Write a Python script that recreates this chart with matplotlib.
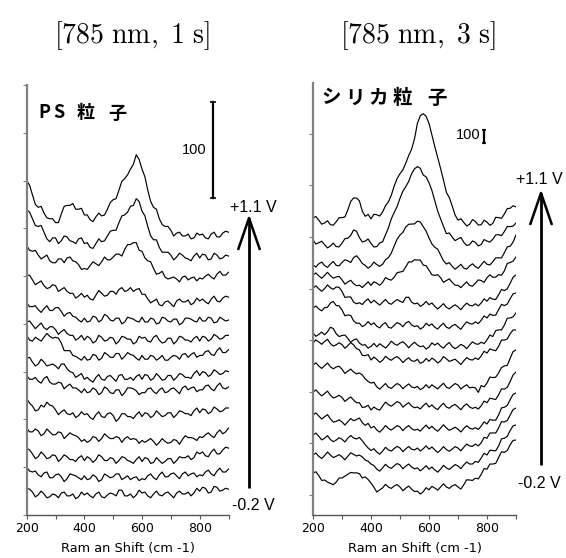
import matplotlib
matplotlib.use("Agg")
import matplotlib.pyplot as plt
from matplotlib.lines import Line2D

plt.rcParams['mathtext.fontset'] = 'cm'

# ---------------- data ----------------
wavenumber = list(range(200, 901, 10))  # Raman shift (cm-1)

# left panel: PS particles, 785 nm 1 s (counts, as stacked; top trace = +1.1 V)
ps_traces = [
    [350,345,335,325,322,323,316,311,310,310,306,306,315,323,324,324,326,320,320,321,314,314,309,307,312,316,313,314,320,327,330,331,340,349,352,356,362,367,377,372,362,354,340,328,322,320,310,304,302,302,298,292,295,296,292,292,294,289,290,295,293,294,290,289,294,296,291,291,295,297,296],
    [319,317,310,303,302,303,296,289,286,290,290,284,287,292,291,287,286,284,289,290,284,285,280,279,284,289,286,287,292,297,298,298,306,313,314,317,323,324,331,328,318,313,302,292,288,288,280,275,275,275,272,267,270,274,272,269,268,266,271,274,269,273,272,267,268,274,272,268,269,272,271],
    [282,277,276,277,272,268,270,272,266,264,264,268,268,264,269,270,266,265,262,257,258,257,261,265,263,261,265,270,267,267,270,273,273,271,278,283,283,285,285,277,276,269,266,265,258,252,253,255,249,247,248,249,247,244,249,250,246,248,249,245,248,247,250,252,249,247,252,255,251,251,254],
    [251,251,246,241,243,245,240,237,238,241,240,234,236,238,234,232,232,227,229,232,228,230,226,225,230,235,232,229,230,234,234,231,236,238,234,235,238,234,236,237,231,231,226,222,224,226,220,219,223,224,221,218,224,226,223,223,225,220,222,227,224,226,223,221,226,229,224,223,227,229,228],
    [222,218,218,219,215,212,216,219,214,214,217,217,213,208,211,212,208,207,204,202,206,202,203,208,207,202,204,210,208,204,203,206,206,200,202,207,206,205,203,202,207,202,202,206,205,200,201,207,206,203,202,205,205,199,201,206,206,205,203,202,207,203,203,207,206,201,202,207,205,203,204],
    [202,203,199,195,198,201,196,194,197,197,194,189,192,194,190,188,188,183,185,188,183,187,185,180,182,188,186,182,183,186,185,179,182,187,186,184,184,179,181,187,185,186,182,181,186,188,183,180,181,185,185,179,182,187,186,183,183,181,185,187,182,187,186,182,184,189,187,184,185,188,188],
    [188,183,182,186,184,182,186,190,187,185,186,185,180,172,172,172,167,166,164,162,166,162,163,168,167,162,164,170,168,165,165,169,169,163,166,170,168,167,164,162,167,163,163,167,166,162,164,167,162,162,165,167,166,163,168,169,165,168,170,165,167,167,171,172,168,167,172,175,170,170,173],
    [164,165,160,156,158,163,160,156,157,158,156,153,158,158,153,150,149,144,146,148,142,144,141,139,144,147,142,141,145,146,143,140,146,147,142,142,144,141,145,147,142,147,146,141,143,148,145,141,142,146,146,141,144,148,147,144,144,143,148,151,146,150,149,145,147,152,150,147,148,151,150],
    [146,142,142,144,140,138,143,145,139,137,137,139,138,132,135,137,133,133,131,128,132,128,129,133,131,126,128,134,132,128,127,131,131,125,128,133,133,132,130,126,128,128,132,133,129,127,131,133,128,129,132,133,130,127,133,135,131,133,134,129,131,131,135,136,132,130,135,138,133,132,134],
    [122,117,114,109,110,115,113,118,115,114,110,105,108,110,106,105,107,102,104,108,105,106,102,100,105,108,103,102,106,107,104,98,101,106,106,103,103,101,105,108,103,107,106,102,104,109,106,103,104,107,107,102,105,109,108,106,106,104,109,112,107,111,110,106,108,113,111,108,109,112,112],
    [91,87,87,90,88,83,85,90,87,84,84,87,86,80,83,86,84,83,81,77,79,76,78,82,81,77,80,85,82,80,80,82,81,76,80,82,79,80,79,75,78,76,78,80,77,73,76,80,77,75,76,79,78,74,79,83,81,81,80,78,82,81,84,86,83,81,86,89,85,87,91],
    [70,68,64,59,61,66,63,59,60,63,62,56,59,63,61,58,58,56,60,62,57,61,59,55,58,63,61,57,57,60,59,54,57,61,60,57,56,54,58,61,56,60,59,54,55,60,57,54,56,59,59,54,57,61,60,60,62,58,60,66,64,66,62,61,66,69,64,64,68,71,70],
    [50,46,45,46,42,40,44,45,39,39,42,43,40,35,38,43,42,41,39,37,41,37,38,42,40,35,37,43,41,39,40,43,43,37,39,41,37,39,40,36,38,37,41,43,39,37,42,45,40,40,43,44,41,38,43,45,41,43,44,40,42,41,45,47,43,41,46,49,45,45,48],
    [28,27,24,19,21,25,22,18,19,22,21,18,23,24,20,20,22,17,19,24,21,23,20,18,22,24,19,18,21,23,22,20,26,26,20,20,22,18,21,26,23,24,20,18,22,25,21,20,23,24,21,18,23,25,22,22,24,20,23,28,25,29,28,23,24,30,29,25,26,28,27],
]

# right panel: silica particles, 785 nm 3 s
silica_traces = [
    [2147,2158,2130,2099,2108,2126,2095,2091,2118,2149,2150,2155,2209,2275,2302,2301,2280,2200,2160,2175,2140,2176,2172,2162,2193,2242,2272,2323,2395,2452,2490,2521,2572,2631,2680,2760,2880,2940,2955,2935,2880,2790,2700,2615,2530,2440,2345,2305,2240,2170,2130,2141,2112,2085,2098,2134,2120,2092,2095,2130,2115,2090,2105,2152,2150,2144,2178,2220,2222,2242,2232],
    [1976,1945,1955,1967,1940,1915,1930,1952,1925,1923,1952,1986,1990,2012,2054,2044,1995,1961,1968,1984,1950,1922,1925,1953,1962,2016,2070,2140,2190,2235,2300,2355,2390,2430,2490,2528,2545,2532,2480,2465,2420,2360,2280,2200,2140,2082,2025,2031,1998,1971,1985,1996,1958,1934,1940,1969,1958,1930,1942,1980,1968,1960,1982,2015,2018,2010,2042,2081,2080,2084,2108],
    [1783,1767,1792,1805,1778,1764,1790,1810,1780,1776,1802,1823,1815,1802,1840,1854,1828,1794,1780,1757,1775,1805,1786,1772,1788,1824,1840,1875,1930,1982,2015,2036,2077,2098,2100,2101,2122,2116,2080,2046,1992,1946,1920,1905,1860,1815,1790,1801,1772,1750,1768,1788,1758,1751,1775,1792,1770,1757,1784,1811,1788,1783,1808,1838,1838,1838,1878,1923,1928,1961,2015],
    [1705,1721,1698,1680,1702,1726,1700,1680,1690,1694,1668,1634,1651,1664,1638,1622,1626,1608,1630,1652,1624,1653,1642,1625,1648,1685,1672,1665,1688,1723,1728,1733,1768,1807,1806,1823,1821,1821,1782,1777,1742,1707,1702,1708,1684,1648,1662,1675,1648,1626,1625,1607,1630,1652,1624,1618,1642,1667,1662,1648,1684,1706,1688,1688,1708,1703,1738,1795,1802,1813,1845],
    [1604,1621,1598,1579,1600,1628,1606,1594,1612,1610,1578,1531,1535,1535,1495,1482,1490,1476,1502,1520,1488,1509,1490,1472,1494,1516,1488,1478,1498,1515,1502,1492,1532,1533,1495,1481,1488,1462,1476,1500,1475,1488,1462,1442,1462,1483,1455,1442,1460,1474,1458,1436,1465,1487,1470,1466,1482,1465,1488,1520,1502,1530,1518,1515,1552,1593,1584,1598,1642,1688,1705],
    [1449,1465,1442,1427,1452,1455,1488,1500,1468,1466,1434,1389,1395,1392,1350,1331,1332,1305,1318,1344,1320,1334,1308,1295,1322,1336,1300,1293,1316,1336,1326,1304,1333,1345,1318,1305,1312,1286,1300,1331,1312,1326,1300,1286,1312,1331,1300,1291,1312,1322,1302,1284,1316,1342,1328,1325,1342,1328,1354,1388,1372,1402,1392,1394,1436,1477,1468,1480,1522,1559,1566],
    [1256,1230,1244,1263,1242,1265,1300,1290,1250,1228,1236,1240,1214,1183,1202,1210,1178,1161,1165,1138,1152,1175,1148,1172,1156,1139,1162,1192,1172,1160,1178,1188,1168,1141,1165,1184,1163,1149,1156,1131,1146,1179,1162,1177,1153,1138,1164,1182,1150,1134,1148,1167,1156,1134,1162,1187,1172,1168,1184,1173,1202,1240,1228,1274,1280,1279,1318,1370,1372,1381,1411],
    [1178,1202,1186,1168,1190,1207,1174,1154,1164,1180,1166,1137,1158,1181,1164,1134,1125,1082,1080,1088,1046,1069,1052,1028,1044,1075,1056,1044,1062,1073,1054,1026,1048,1064,1040,1036,1052,1021,1030,1058,1036,1061,1046,1023,1040,1073,1056,1035,1044,1053,1032,1011,1040,1065,1050,1046,1062,1050,1078,1114,1100,1132,1124,1118,1152,1201,1200,1210,1250,1279,1279],
    [1008,1024,1000,981,1002,1023,994,978,992,998,975,942,960,976,953,939,946,930,900,880,868,873,838,820,842,864,836,826,846,864,852,823,844,861,838,830,842,816,830,855,830,854,838,822,846,866,836,826,846,864,852,821,840,855,830,835,830,795,848,838,868,914,910,913,946,988,1000,1005,1060,1112,1124],
    [798,814,790,768,786,805,774,752,760,773,756,725,744,760,736,715,715,678,682,695,659,682,666,658,690,720,700,688,706,724,713,681,700,715,690,676,682,667,692,712,682,698,675,662,690,711,682,672,692,702,682,661,690,706,682,671,680,666,692,728,715,750,745,740,776,823,820,835,880,931,953],
    [620,636,612,589,606,623,590,565,570,583,566,542,568,592,576,585,597,560,540,555,520,532,504,487,510,538,516,503,520,538,527,499,522,538,514,502,510,495,520,542,514,532,510,494,518,544,520,501,512,526,510,488,516,537,518,510,522,508,535,567,550,585,580,580,620,675,680,695,740,780,791],
    [465,480,455,427,440,460,430,413,426,444,432,411,440,461,442,434,446,420,390,365,345,359,333,316,340,370,350,340,360,377,364,336,358,376,355,349,364,341,358,381,355,372,350,329,349,375,352,339,356,375,364,342,370,395,380,377,395,380,405,447,440,480,481,480,520,568,566,578,620,662,674],
    [310,325,300,283,306,333,310,290,300,313,296,273,300,327,315,302,310,295,271,262,240,228,200,185,210,238,217,206,226,244,233,203,224,240,217,203,210,187,205,227,200,217,194,177,200,230,210,198,217,236,225,204,233,256,240,240,260,253,287,323,310,347,345,342,380,435,440,455,500,536,543],
    [171,180,150,113,116,100,90,80,100,131,132,146,160,175,171,172,165,132,140,120,93,60,23,40,55,83,62,51,70,81,62,33,54,69,45,27,30,7,25,57,40,67,54,38,62,87,62,51,70,81,62,46,80,118,116,113,130,125,160,205,200,240,240,245,290,335,330,345,390,423,426],
]

x_ticks = [200, 400, 600, 800]
titles = ["[785 nm, 1 s]", "[785 nm, 3 s]"]
scale_value = 100
voltage_top = "+1.1 V"
voltage_bottom = "-0.2 V"

for tr in ps_traces + silica_traces:
    assert len(tr) == len(wavenumber), len(tr)

# ---------------- figure ----------------
W, H = 566, 558
fig = plt.figure(figsize=(W / 100, H / 100), dpi=100)

def fx(px):
    return px / W

def fy(py):
    return 1 - py / H

ax1 = fig.add_axes([fx(26.7), fy(515), fx(228.5) - fx(26.7), fy(85) - fy(515)])
ax2 = fig.add_axes([fx(313), fy(515), fx(516) - fx(313), fy(83) - fy(515)])

tick_font = dict(family='DejaVu Sans', size=9)

def style(ax, ylim, yticks):
    ax.set_xlim(200, 900)
    ax.set_ylim(*ylim)
    for s in ['top', 'right']:
        ax.spines[s].set_visible(False)
    ax.spines['left'].set_color('#808080')
    ax.spines['left'].set_linewidth(1.6)
    ax.spines['bottom'].set_color('#555555')
    ax.spines['bottom'].set_linewidth(1.0)
    ax.set_xticks(x_ticks)
    ax.set_xticks(range(300, 901, 200), minor=True)
    ax.set_xticklabels([str(t) for t in x_ticks], fontdict=tick_font)
    ax.set_yticks(yticks)
    ax.set_yticklabels([])
    ax.tick_params(axis='x', which='both', direction='out', length=3, width=0.8, color='#555555', pad=2)
    ax.tick_params(axis='y', direction='out', length=3, width=0.8, color='#808080')
    ax.set_xlabel("Ram an Shift (cm -1)", fontsize=9.3, family='DejaVu Sans', labelpad=5)
    ax.patch.set_alpha(0)

style(ax1, (0, 450), list(range(0, 451, 50)))
style(ax2, (-155, 3193), list(range(0, 2801, 400)))

for tr in ps_traces:
    ax1.plot(wavenumber, tr, color='black', lw=0.85)
for tr in silica_traces:
    ax2.plot(wavenumber, tr, color='black', lw=0.85)

# scale bars
ax1.plot([845, 845], [332, 332 + scale_value], color='black', lw=1.6, marker='_', ms=4, mew=1.2)
ax1.text(825, 382, str(scale_value), ha='right', va='center', fontsize=10.5, family='Liberation Sans')
ax2.plot([790, 790], [2728, 2728 + scale_value], color='black', lw=1.6, marker='_', ms=3, mew=1.2)
ax2.text(776, 2790, str(scale_value), ha='right', va='center', fontsize=10.5, family='Liberation Sans')

# titles
for cx, t in zip([132, 418], titles):
    fig.text(fx(cx), fy(36), r"$\mathrm{" + t.replace(' ', r'\ ') + "}$",
             ha='center', va='center', fontsize=20)

# sample labels
cjk = ['Noto Sans CJK JP', 'DejaVu Sans']
for ch, cx in zip(["P", "S", "粒", "子"], [44, 59, 86, 117]):
    fig.text(fx(cx), fy(113), ch, ha='center', va='center', fontsize=13, fontweight='bold', family=cjk)
for ch, cx in zip(["シ", "リ", "カ", "粒", "子"], [331, 355, 378, 402, 437]):
    fig.text(fx(cx), fy(98), ch, ha='center', va='center', fontsize=14, fontweight='bold', family=cjk)

# voltage arrows (open arrowhead)
def varrow(x, ytip, ybot, ytop_txt, ybot_txt, dx):
    kw = dict(transform=fig.transFigure, color='black', solid_capstyle='butt')
    fig.add_artist(Line2D([fx(x), fx(x)], [fy(ybot), fy(ytip)], lw=2.0, **kw))
    fig.add_artist(Line2D([fx(x - 11), fx(x), fx(x + 11)], [fy(ytip + 32), fy(ytip), fy(ytip + 32)],
                          lw=1.8, **kw))
    fig.text(fx(x + dx), fy(ytop_txt), voltage_top, ha='center', va='center', fontsize=11.5, family='Liberation Sans')
    fig.text(fx(x + dx), fy(ybot_txt), voltage_bottom, ha='center', va='center', fontsize=11.5, family='Liberation Sans')

varrow(249, 218, 488, 207, 505, 4)
varrow(541, 193, 465, 180, 483, -2)

fig.savefig("out.png", dpi=100)
